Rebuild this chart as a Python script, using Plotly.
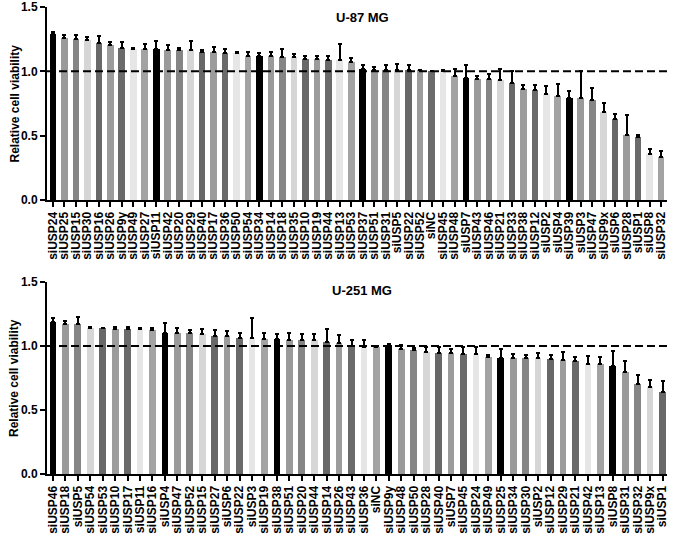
import plotly.graph_objects as go

# ---- data: U-87 MG ----
u87_labels = ["siUSP24", "siUSP25", "siUSP15", "siUSP30", "siUSP16", "siUSP26", "siUSP9y", "siUSP49", "siUSP27",
              "siUSP11", "siUSP42", "siUSP20", "siUSP29", "siUSP40", "siUSP17", "siUSP36", "siUSP50", "siUSP54",
              "siUSP34", "siUSP14", "siUSP18", "siUSP35", "siUSP10", "siUSP19", "siUSP44", "siUSP13", "siUSP53",
              "siUSP37", "siUSP51", "siUSP31", "siUSP5", "siUSP22", "siUSP52", "siNC", "siUSP45", "siUSP48",
              "siUSP7", "siUSP43", "siUSP46", "siUSP21", "siUSP33", "siUSP38", "siUSP12", "siUSP2", "siUSP4",
              "siUSP39", "siUSP3", "siUSP47", "siUSP9x", "siUSP6", "siUSP28", "siUSP1", "siUSP8", "siUSP32"]
u87_values = [1.292, 1.261, 1.253, 1.240, 1.222, 1.202, 1.183, 1.176, 1.176,
              1.171, 1.168, 1.163, 1.163, 1.150, 1.150, 1.145, 1.142, 1.119,
              1.116, 1.116, 1.111, 1.111, 1.098, 1.093, 1.085, 1.085, 1.070,
              1.021, 1.013, 1.008, 1.008, 1.008, 1.008, 1.000, 1.003, 0.961,
              0.951, 0.943, 0.943, 0.935, 0.910, 0.866, 0.853, 0.827, 0.806,
              0.796, 0.796, 0.775, 0.685, 0.628, 0.504, 0.491, 0.354, 0.336]
u87_errors = [0.013, 0.018, 0.026, 0.026, 0.054, 0.025, 0.047, 0.007, 0.038,
              0.062, 0.039, 0.020, 0.072, 0.013, 0.039, 0.028, 0.008, 0.031,
              0.029, 0.031, 0.065, 0.026, 0.018, 0.028, 0.031, 0.129, 0.036,
              0.026, 0.021, 0.044, 0.046, 0.044, 0.005, 0.003, 0.007, 0.060,
              0.096, 0.018, 0.034, 0.081, 0.093, 0.025, 0.044, 0.057, 0.098,
              0.052, 0.207, 0.096, 0.070, 0.044, 0.155, 0.015, 0.039, 0.046]

# ---- data: U-251 MG ----
u251_labels = ["siUSP46", "siUSP18", "siUSP5", "siUSP54", "siUSP53", "siUSP10", "siUSP17", "siUSP11", "siUSP16",
               "siUSP4", "siUSP47", "siUSP52", "siUSP15", "siUSP27", "siUSP6", "siUSP22", "siUSP3", "siUSP19",
               "siUSP38", "siUSP51", "siUSP20", "siUSP44", "siUSP14", "siUSP26", "siUSP43", "siUSP36", "siNC",
               "siUSP9y", "siUSP48", "siUSP50", "siUSP28", "siUSP40", "siUSP7", "siUSP45", "siUSP24", "siUSP49",
               "siUSP25", "siUSP34", "siUSP30", "siUSP2", "siUSP12", "siUSP29", "siUSP21", "siUSP42", "siUSP13",
               "siUSP8", "siUSP31", "siUSP32", "siUSP9x", "siUSP1"]
u251_values = [1.188, 1.169, 1.169, 1.143, 1.138, 1.135, 1.130, 1.130, 1.125,
               1.104, 1.099, 1.099, 1.091, 1.078, 1.078, 1.060, 1.060, 1.057,
               1.052, 1.047, 1.047, 1.044, 1.031, 1.021, 1.000, 0.995, 0.995,
               1.005, 0.979, 0.966, 0.956, 0.948, 0.943, 0.940, 0.935, 0.914,
               0.909, 0.904, 0.904, 0.904, 0.896, 0.891, 0.883, 0.862, 0.862,
               0.844, 0.799, 0.706, 0.682, 0.643]
u251_errors = [0.028, 0.026, 0.058, 0.008, 0.005, 0.016, 0.021, 0.013, 0.016,
               0.073, 0.042, 0.026, 0.039, 0.044, 0.037, 0.044, 0.161, 0.047,
               0.039, 0.052, 0.044, 0.047, 0.099, 0.062, 0.044, 0.049, 0.002,
               0.011, 0.026, 0.021, 0.039, 0.047, 0.031, 0.052, 0.060, 0.016,
               0.065, 0.036, 0.028, 0.044, 0.031, 0.065, 0.028, 0.060, 0.049,
               0.117, 0.084, 0.065, 0.052, 0.081]

y_ticks = [0.0, 0.5, 1.0, 1.5]
y_title = "Relative cell viability"

# ---- style ----
palette = ["#000000", "#9a9a9a", "#858585", "#d6d6d6", "#686868",
           "#9c9c9c", "#6a6a6a", "#e6e6e6", "#a3a3a3"]
FONT = "Liberation Sans"


def colors_for(n):
    return [palette[i % len(palette)] for i in range(n)]


fig = go.Figure()

fig.add_trace(go.Bar(
    x=list(range(len(u87_labels))), y=u87_values,
    width=0.58,
    marker=dict(color=colors_for(len(u87_labels)), line=dict(width=0)),
    error_y=dict(type="data", array=u87_errors, arrayminus=[0] * len(u87_errors),
                 symmetric=False, color="#000000", thickness=2, width=2),
    xaxis="x", yaxis="y", showlegend=False, hoverinfo="x+y"))

fig.add_trace(go.Bar(
    x=list(range(len(u251_labels))), y=u251_values,
    width=0.54,
    marker=dict(color=colors_for(len(u251_labels)), line=dict(width=0)),
    error_y=dict(type="data", array=u251_errors, arrayminus=[0] * len(u251_errors),
                 symmetric=False, color="#000000", thickness=2, width=2),
    xaxis="x2", yaxis="y2", showlegend=False, hoverinfo="x+y"))

tickfont_x = dict(family=FONT, size=12, color="#000000", weight="bold")
tickfont_y = dict(family=FONT, size=12, color="#000000", weight="bold")

common_x = dict(showline=True, linecolor="#000000", linewidth=2, ticks="outside",
                ticklen=5, tickwidth=1.5, tickcolor="#000000", showgrid=False,
                zeroline=False, tickangle=-90, tickfont=tickfont_x, automargin=False,
                ticklabeloverflow="allow")
common_y = dict(showline=True, linecolor="#000000", linewidth=2, ticks="outside",
                ticklen=5, tickwidth=1.5, tickcolor="#000000", showgrid=False,
                zeroline=False, range=[0, 1.5], tickvals=y_ticks,
                ticktext=[f"{v:.1f}" for v in y_ticks], tickfont=tickfont_y,
                automargin=False, ticklabeloverflow="allow")

H = 539
W = 676
L, R = 47, 9
T, B = 5, 2
plot_h = H - T - B
plot_w = W - L - R


def py(pix):
    return (H - B - pix) / plot_h


def px(pix):
    return (pix - L) / plot_w


title_font = dict(family=FONT, size=13, color="#000000", weight="bold")
ytitle_font = dict(family=FONT, size=12, color="#000000", weight="bold")
ref_line = dict(color="#000000", width=2, dash="8px,4px")

fig.update_layout(
    width=W, height=H,
    margin=dict(l=L, r=R, t=T, b=B),
    paper_bgcolor="#ffffff", plot_bgcolor="#ffffff",
    bargap=0,
    xaxis=dict(common_x, domain=[0, 1], anchor="y",
               range=[-0.52, len(u87_labels) - 0.48],
               tickvals=list(range(len(u87_labels))), ticktext=u87_labels),
    yaxis=dict(common_y, domain=[py(200), py(7)], anchor="x"),
    xaxis2=dict(common_x, domain=[0, 1], anchor="y2",
                range=[-0.48, len(u251_labels) - 0.64],
                tickvals=list(range(len(u251_labels))), ticktext=u251_labels),
    yaxis2=dict(common_y, domain=[py(474), py(282)], anchor="x2"),
    shapes=[
        dict(type="line", xref="x domain", yref="y", x0=0, x1=1, y0=1, y1=1,
             line=ref_line, layer="above"),
        dict(type="line", xref="x2 domain", yref="y2", x0=0, x1=1, y0=1, y1=1,
             line=ref_line, layer="above"),
    ],
    annotations=[
        dict(text="U-87 MG", xref="paper", yref="paper", x=px(362), y=py(17),
             showarrow=False, xanchor="center", yanchor="middle", font=title_font),
        dict(text="U-251 MG", xref="paper", yref="paper", x=px(362), y=py(290),
             showarrow=False, xanchor="center", yanchor="middle", font=title_font),
        dict(text=y_title, xref="paper", yref="paper", x=px(14), y=py(103.5),
             textangle=-90, showarrow=False, xanchor="center", yanchor="middle",
             font=ytitle_font),
        dict(text=y_title, xref="paper", yref="paper", x=px(14), y=py(378),
             textangle=-90, showarrow=False, xanchor="center", yanchor="middle",
             font=ytitle_font),
    ],
)

fig.write_html("out.html", config={"displayModeBar": False},
               post_script="document.body.style.margin='0px';document.body.style.padding='0px';")
